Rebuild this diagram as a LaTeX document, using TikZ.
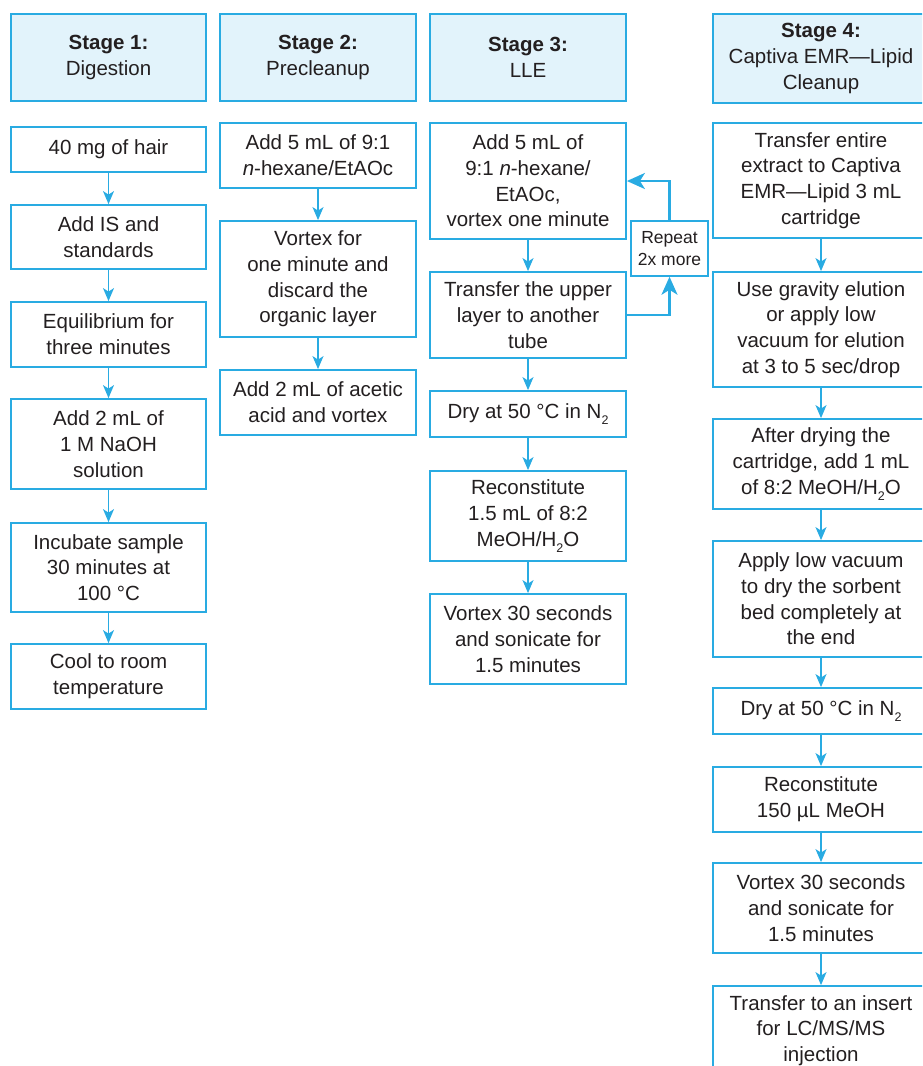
\documentclass[tikz,border=0pt]{standalone}
\usepackage{fontspec}
\setmainfont{Liberation Sans}
\usetikzlibrary{arrows.meta}
\definecolor{ablue}{HTML}{29ABE2}
\definecolor{hfill}{HTML}{E2F3FB}
\definecolor{txt}{HTML}{231F20}
\newcommand\lowsub[1]{\raisebox{-6pt}{\fontsize{12.5}{12.5}\selectfont #1}}
\newcommand\bx[7][]{%
  \node[box,#1,minimum width={(#5-#3)*1pt},minimum height={(#6-#4)*1pt}]
    (#2) at ({(#3+#5)/2},{(#4+#6)/2}) {#7};}
\tikzset{
  box/.style={draw=ablue,line width=1.8pt,fill=white,align=center,inner sep=0pt,
    text=txt,font=\fontsize{20.5}{25.7}\selectfont},
  head/.style={fill=hfill},
  small/.style={font=\fontsize{17.5}{21.7}\selectfont,line width=1.5pt},
  arr/.style={draw=ablue,line width=1.5pt,-{Stealth[length=13pt,width=11pt,inset=3.5pt]}},
  rarr/.style={draw=ablue,line width=2.6pt,-{Stealth[length=18pt,width=16pt,inset=5pt]}}
}
\begin{document}
\begin{tikzpicture}[x=1pt,y=-1pt]
\useasboundingbox (0,0) rectangle (922,1066);
\clip (0,0) rectangle (922,1066);
% headers
\bx[head]{h1}{11}{14}{206}{101}{\textbf{Stage 1:}\\Digestion}
\bx[head]{h2}{220}{14}{416}{101}{\textbf{Stage 2:}\\Precleanup}
\bx[head]{h3}{430}{14}{626}{101}{\textbf{Stage 3:}\\LLE}
\bx[head]{h4}{713}{14}{929}{103}{\textbf{Stage 4:}\\Captiva EMR—Lipid\\Cleanup}
% column 1
\bx{a1}{11}{127}{206}{172}{40 mg of hair}
\bx{a2}{11}{205}{206}{269}{Add IS and\\standards}
\bx{a3}{11}{302}{206}{367}{Equilibrium for\\three minutes}
\bx{a4}{11}{399}{206}{489}{Add 2 mL of\\1 M NaOH\\solution}
\bx{a5}{11}{523}{206}{612}{Incubate sample\\30 minutes at\\100 °C}
\bx{a6}{11}{644}{206}{709}{Cool to room\\temperature}
% column 2
\bx{b1}{220}{123}{416}{188}{Add 5 mL of 9:1\\\textit{n}-hexane/EtAOc}
\bx{b2}{220}{221}{416}{337}{Vortex for\\one minute and\\discard the\\organic layer}
\bx{b3}{220}{370}{416}{435}{Add 2 mL of acetic\\acid and vortex}
% column 3
\bx{c1}{430}{123}{626}{239}{Add 5 mL of\\9:1 \textit{n}-hexane/\\EtAOc,\\vortex one minute}
\bx{c2}{430}{272}{626}{358}{Transfer the upper\\layer to another\\tube}
\bx{c3}{430}{391}{626}{437}{Dry at 50 °C in N\lowsub{2}}
\bx{c4}{430}{471}{626}{561}{Reconstitute\\1.5 mL of 8:2\\MeOH/H\lowsub{2}O}
\bx{c5}{430}{594}{626}{684}{Vortex 30 seconds\\and sonicate for\\1.5 minutes}
\bx[small]{rep}{631}{221}{708}{276}{Repeat\\2x more}
% column 4
\bx{d1}{713}{123}{929}{238}{Transfer entire\\extract to Captiva\\EMR—Lipid 3 mL\\cartridge}
\bx{d2}{713}{272}{929}{387}{Use gravity elution\\or apply low\\vacuum for elution\\at 3 to 5 sec/drop}
\bx{d3}{713}{419}{929}{509}{After drying the\\cartridge, add 1 mL\\of 8:2 MeOH/H\lowsub{2}O}
\bx{d4}{713}{541}{929}{657}{Apply low vacuum\\to dry the sorbent\\bed completely at\\the end}
\bx{d5}{713}{688}{929}{734}{Dry at 50 °C in N\lowsub{2}}
\bx{d6}{713}{767}{929}{832}{Reconstitute\\150 µL MeOH}
\bx{d7}{713}{863}{929}{953}{Vortex 30 seconds\\and sonicate for\\1.5 minutes}
\bx{d8}{713}{986}{929}{1075}{Transfer to an insert\\for LC/MS/MS\\injection}
% arrows
\foreach \p/\q in {a1/a2,a2/a3,a3/a4,a4/a5,a5/a6,b1/b2,b2/b3,c1/c2,c2/c3,c3/c4,c4/c5,
  d1/d2,d2/d3,d3/d4,d4/d5,d5/d6,d6/d7,d7/d8}
  \draw[arr] (\p.south) -- (\q.north);
\draw[rarr] (c2.east) -| (rep.south);
\draw[rarr] (rep.north) |- (c1.east);
\end{tikzpicture}
\end{document}
